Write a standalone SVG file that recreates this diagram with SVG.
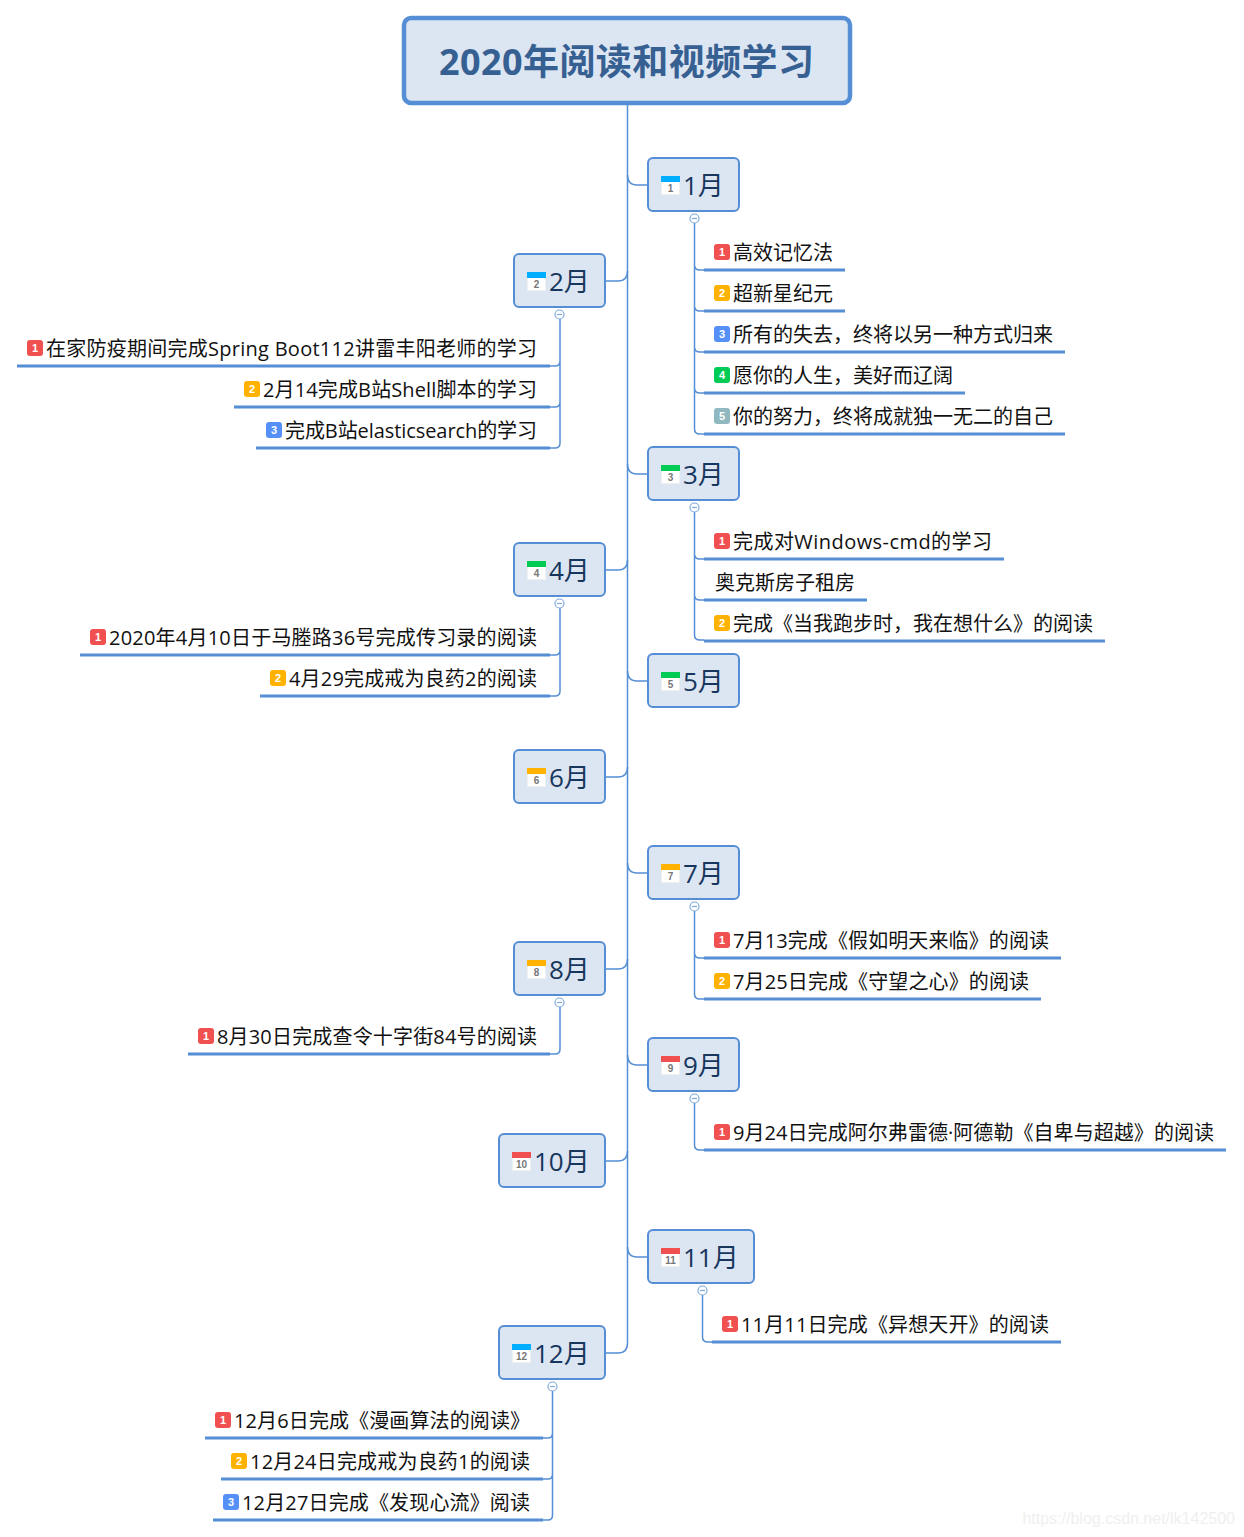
<svg xmlns="http://www.w3.org/2000/svg" xmlns:xlink="http://www.w3.org/1999/xlink" width="1244" height="1537" viewBox="0 0 1244 1537">
<style>
text{font-family:"Open Sans","Noto Sans CJK SC",sans-serif}
.root{fill:#dce6f2;stroke:#558ed5;stroke-width:4.5}
.rt{font-size:36px;font-weight:700;fill:#376092}
.topic{fill:#dce6f2;stroke:#558ed5;stroke-width:2}
.tt{font-size:26px;fill:#17365d}
.leaf{font-size:20px;fill:#111}
.ul{stroke:#558ed5;stroke-width:3;fill:none}
.con{stroke:#558ed5;stroke-width:1.5;fill:none}
.col{fill:#fff;stroke:#7fa9de;stroke-width:1.2}
.cm{stroke:#7fa9de;stroke-width:1.2}
.pn{font-size:11px;font-weight:700;fill:#fff;text-anchor:middle;font-family:"Liberation Sans",sans-serif}
.cn{font-size:10px;font-weight:700;fill:#777;text-anchor:middle;font-family:"Liberation Sans",sans-serif}
.p1{fill:#f05050}.p2{fill:#ffb300}.p3{fill:#5590f8}.p4{fill:#00cc55}.p5{fill:#8fb8c0}
.wm{font-size:16px;fill:#efefef;text-anchor:end;font-family:"Liberation Sans",sans-serif}
</style>
<defs>
<rect id="pr" width="16" height="16" rx="3"/>
<g id="cal"><rect x="0" y="0" width="19" height="19" fill="#f0f0f0"/><rect x="1" y="6" width="17" height="12" fill="#fff"/></g>
<g id="col"><circle r="4.5" class="col"/><line x1="-2.5" x2="2.5" class="cm"/></g>
</defs>
<g id="connectors">
<path class="con" d="M627.5 104V1343"/>
<path class="con" d="M627.5 175Q627.5 185 637 185H648"/>
<path class="con" d="M605 281H618Q627.5 281 627.5 271"/>
<path class="con" d="M627.5 464Q627.5 474 637 474H648"/>
<path class="con" d="M605 570H618Q627.5 570 627.5 560"/>
<path class="con" d="M627.5 671Q627.5 681 637 681H648"/>
<path class="con" d="M605 777H618Q627.5 777 627.5 767"/>
<path class="con" d="M627.5 863Q627.5 873 637 873H648"/>
<path class="con" d="M605 969H618Q627.5 969 627.5 959"/>
<path class="con" d="M627.5 1055Q627.5 1065 637 1065H648"/>
<path class="con" d="M605 1161H618Q627.5 1161 627.5 1151"/>
<path class="con" d="M627.5 1247Q627.5 1257 637 1257H648"/>
<path class="con" d="M605 1353H618Q627.5 1353 627.5 1343"/>
<path class="con" d="M694.5 223V429Q694.5 434 700 434H704M694.5 265Q694.5 270 700 270H704M694.5 306Q694.5 311 700 311H704M694.5 347Q694.5 352 700 352H704M694.5 388Q694.5 393 700 393H704"/>
<path class="con" d="M560 319V443Q560 448 555 448H550M560 361Q560 366 555 366H550M560 402Q560 407 555 407H550"/>
<path class="con" d="M694.5 512V635Q694.5 640 700 640H704M694.5 554Q694.5 559 700 559H704M694.5 595Q694.5 600 700 600H704"/>
<path class="con" d="M560 608V691Q560 696 555 696H550M560 650Q560 655 555 655H550"/>
<path class="con" d="M694.5 911V994Q694.5 999 700 999H704M694.5 953Q694.5 958 700 958H704"/>
<path class="con" d="M560 1007V1049Q560 1054 555 1054H550"/>
<path class="con" d="M694.5 1103V1145Q694.5 1150 700 1150H704"/>
<path class="con" d="M702.5 1295V1337Q702.5 1342 708 1342H712"/>
<path class="con" d="M552.5 1391V1515Q552.5 1520 548 1520H543M552.5 1433Q552.5 1438 548 1438H543M552.5 1474Q552.5 1479 548 1479H543"/>
</g>
<g id="root"><rect class="root" x="404" y="18" width="446" height="85" rx="7"/><text class="rt" x="439" y="75" textLength="375" lengthAdjust="spacing">2020年阅读和视频学习</text></g>

<g id="m1"><rect class="topic" x="648" y="158" width="91" height="53" rx="5"/><use xlink:href="#cal" href="#cal" x="661" y="176"/><rect x="661" y="176" width="19" height="6" fill="#00aeff"/><text class="cn" x="670.5" y="192">1</text><text class="tt" x="683" y="195">1月</text><use xlink:href="#col" href="#col" x="694.5" y="218.5"/></g>
<g id="m2"><rect class="topic" x="514" y="254" width="91" height="53" rx="5"/><use xlink:href="#cal" href="#cal" x="527" y="272"/><rect x="527" y="272" width="19" height="6" fill="#00aeff"/><text class="cn" x="536.5" y="288">2</text><text class="tt" x="549" y="291">2月</text><use xlink:href="#col" href="#col" x="559.5" y="314.5"/></g>
<g id="m3"><rect class="topic" x="648" y="447" width="91" height="53" rx="5"/><use xlink:href="#cal" href="#cal" x="661" y="465"/><rect x="661" y="465" width="19" height="6" fill="#00cc55"/><text class="cn" x="670.5" y="481">3</text><text class="tt" x="683" y="484">3月</text><use xlink:href="#col" href="#col" x="694.5" y="507.5"/></g>
<g id="m4"><rect class="topic" x="514" y="543" width="91" height="53" rx="5"/><use xlink:href="#cal" href="#cal" x="527" y="561"/><rect x="527" y="561" width="19" height="6" fill="#00cc55"/><text class="cn" x="536.5" y="577">4</text><text class="tt" x="549" y="580">4月</text><use xlink:href="#col" href="#col" x="559.5" y="603.5"/></g>
<g id="m5"><rect class="topic" x="648" y="654" width="91" height="53" rx="5"/><use xlink:href="#cal" href="#cal" x="661" y="672"/><rect x="661" y="672" width="19" height="6" fill="#00cc55"/><text class="cn" x="670.5" y="688">5</text><text class="tt" x="683" y="691">5月</text></g>
<g id="m6"><rect class="topic" x="514" y="750" width="91" height="53" rx="5"/><use xlink:href="#cal" href="#cal" x="527" y="768"/><rect x="527" y="768" width="19" height="6" fill="#ffb300"/><text class="cn" x="536.5" y="784">6</text><text class="tt" x="549" y="787">6月</text></g>
<g id="m7"><rect class="topic" x="648" y="846" width="91" height="53" rx="5"/><use xlink:href="#cal" href="#cal" x="661" y="864"/><rect x="661" y="864" width="19" height="6" fill="#ffb300"/><text class="cn" x="670.5" y="880">7</text><text class="tt" x="683" y="883">7月</text><use xlink:href="#col" href="#col" x="694.5" y="906.5"/></g>
<g id="m8"><rect class="topic" x="514" y="942" width="91" height="53" rx="5"/><use xlink:href="#cal" href="#cal" x="527" y="960"/><rect x="527" y="960" width="19" height="6" fill="#ffb300"/><text class="cn" x="536.5" y="976">8</text><text class="tt" x="549" y="979">8月</text><use xlink:href="#col" href="#col" x="559.5" y="1002.5"/></g>
<g id="m9"><rect class="topic" x="648" y="1038" width="91" height="53" rx="5"/><use xlink:href="#cal" href="#cal" x="661" y="1056"/><rect x="661" y="1056" width="19" height="6" fill="#f05050"/><text class="cn" x="670.5" y="1072">9</text><text class="tt" x="683" y="1075">9月</text><use xlink:href="#col" href="#col" x="694.5" y="1098.5"/></g>
<g id="m10"><rect class="topic" x="499" y="1134" width="106" height="53" rx="5"/><use xlink:href="#cal" href="#cal" x="512" y="1152"/><rect x="512" y="1152" width="19" height="6" fill="#f05050"/><text class="cn" x="521.5" y="1168">10</text><text class="tt" x="534" y="1171">10月</text></g>
<g id="m11"><rect class="topic" x="648" y="1230" width="106" height="53" rx="5"/><use xlink:href="#cal" href="#cal" x="661" y="1248"/><rect x="661" y="1248" width="19" height="6" fill="#f05050"/><text class="cn" x="670.5" y="1264">11</text><text class="tt" x="683" y="1267">11月</text><use xlink:href="#col" href="#col" x="702.5" y="1290.5"/></g>
<g id="m12"><rect class="topic" x="499" y="1326" width="106" height="53" rx="5"/><use xlink:href="#cal" href="#cal" x="512" y="1344"/><rect x="512" y="1344" width="19" height="6" fill="#00aeff"/><text class="cn" x="521.5" y="1360">12</text><text class="tt" x="534" y="1363">12月</text><use xlink:href="#col" href="#col" x="552.5" y="1386.5"/></g>

<g id="l1-1"><use xlink:href="#pr" href="#pr" class="p1" x="714" y="244"/><text class="pn" x="722" y="256">1</text><text class="leaf" x="733" y="260">高效记忆法</text><path class="ul" d="M704 270H845"/></g>
<g id="l1-2"><use xlink:href="#pr" href="#pr" class="p2" x="714" y="285"/><text class="pn" x="722" y="297">2</text><text class="leaf" x="733" y="301">超新星纪元</text><path class="ul" d="M704 311H845"/></g>
<g id="l1-3"><use xlink:href="#pr" href="#pr" class="p3" x="714" y="326"/><text class="pn" x="722" y="338">3</text><text class="leaf" x="733" y="342">所有的失去，终将以另一种方式归来</text><path class="ul" d="M704 352H1065"/></g>
<g id="l1-4"><use xlink:href="#pr" href="#pr" class="p4" x="714" y="367"/><text class="pn" x="722" y="379">4</text><text class="leaf" x="733" y="383">愿你的人生，美好而辽阔</text><path class="ul" d="M704 393H965"/></g>
<g id="l1-5"><use xlink:href="#pr" href="#pr" class="p5" x="714" y="408"/><text class="pn" x="722" y="420">5</text><text class="leaf" x="733" y="424">你的努力，终将成就独一无二的自己</text><path class="ul" d="M704 434H1065"/></g>

<g id="l2-1"><use xlink:href="#pr" href="#pr" class="p1" x="27" y="340"/><text class="pn" x="35" y="352">1</text><text class="leaf" x="46" y="356" textLength="491" lengthAdjust="spacing">在家防疫期间完成Spring Boot112讲雷丰阳老师的学习</text><path class="ul" d="M17 366H550"/></g>
<g id="l2-2"><use xlink:href="#pr" href="#pr" class="p2" x="244" y="381"/><text class="pn" x="252" y="393">2</text><text class="leaf" x="263" y="397" textLength="274" lengthAdjust="spacing">2月14完成B站Shell脚本的学习</text><path class="ul" d="M234 407H550"/></g>
<g id="l2-3"><use xlink:href="#pr" href="#pr" class="p3" x="266" y="422"/><text class="pn" x="274" y="434">3</text><text class="leaf" x="285" y="438" textLength="252" lengthAdjust="spacing">完成B站elasticsearch的学习</text><path class="ul" d="M256 448H550"/></g>

<g id="l3-1"><use xlink:href="#pr" href="#pr" class="p1" x="714" y="533"/><text class="pn" x="722" y="545">1</text><text class="leaf" x="733" y="549" textLength="259" lengthAdjust="spacing">完成对Windows-cmd的学习</text><path class="ul" d="M704 559H1004"/></g>
<g id="l3-2"><text class="leaf" x="715" y="590">奥克斯房子租房</text><path class="ul" d="M704 600H867"/></g>
<g id="l3-3"><use xlink:href="#pr" href="#pr" class="p2" x="714" y="615"/><text class="pn" x="722" y="627">2</text><text class="leaf" x="733" y="631">完成《当我跑步时，我在想什么》的阅读</text><path class="ul" d="M704 641H1105"/></g>

<g id="l4-1"><use xlink:href="#pr" href="#pr" class="p1" x="90" y="629"/><text class="pn" x="98" y="641">1</text><text class="leaf" x="109" y="645" textLength="428" lengthAdjust="spacing">2020年4月10日于马塍路36号完成传习录的阅读</text><path class="ul" d="M80 655H550"/></g>
<g id="l4-2"><use xlink:href="#pr" href="#pr" class="p2" x="270" y="670"/><text class="pn" x="278" y="682">2</text><text class="leaf" x="289" y="686" textLength="248" lengthAdjust="spacing">4月29完成戒为良药2的阅读</text><path class="ul" d="M260 696H550"/></g>

<g id="l7-1"><use xlink:href="#pr" href="#pr" class="p1" x="714" y="932"/><text class="pn" x="722" y="944">1</text><text class="leaf" x="733" y="948" textLength="316" lengthAdjust="spacing">7月13完成《假如明天来临》的阅读</text><path class="ul" d="M704 958H1061"/></g>
<g id="l7-2"><use xlink:href="#pr" href="#pr" class="p2" x="714" y="973"/><text class="pn" x="722" y="985">2</text><text class="leaf" x="733" y="989" textLength="296" lengthAdjust="spacing">7月25日完成《守望之心》的阅读</text><path class="ul" d="M704 999H1041"/></g>

<g id="l8-1"><use xlink:href="#pr" href="#pr" class="p1" x="198" y="1028"/><text class="pn" x="206" y="1040">1</text><text class="leaf" x="217" y="1044" textLength="320" lengthAdjust="spacing">8月30日完成查令十字街84号的阅读</text><path class="ul" d="M188 1054H550"/></g>

<g id="l9-1"><use xlink:href="#pr" href="#pr" class="p1" x="714" y="1124"/><text class="pn" x="722" y="1136">1</text><text class="leaf" x="733" y="1140" textLength="481" lengthAdjust="spacing">9月24日完成阿尔弗雷德·阿德勒《自卑与超越》的阅读</text><path class="ul" d="M704 1150H1226"/></g>

<g id="l11-1"><use xlink:href="#pr" href="#pr" class="p1" x="722" y="1316"/><text class="pn" x="730" y="1328">1</text><text class="leaf" x="741" y="1332" textLength="308" lengthAdjust="spacing">11月11日完成《异想天开》的阅读</text><path class="ul" d="M712 1342H1061"/></g>

<g id="l12-1"><use xlink:href="#pr" href="#pr" class="p1" x="215" y="1412"/><text class="pn" x="223" y="1424">1</text><text class="leaf" x="234" y="1428" textLength="296" lengthAdjust="spacing">12月6日完成《漫画算法的阅读》</text><path class="ul" d="M205 1438H543"/></g>
<g id="l12-2"><use xlink:href="#pr" href="#pr" class="p2" x="231" y="1453"/><text class="pn" x="239" y="1465">2</text><text class="leaf" x="250" y="1469" textLength="280" lengthAdjust="spacing">12月24日完成戒为良药1的阅读</text><path class="ul" d="M221 1479H543"/></g>
<g id="l12-3"><use xlink:href="#pr" href="#pr" class="p3" x="223" y="1494"/><text class="pn" x="231" y="1506">3</text><text class="leaf" x="242" y="1510" textLength="288" lengthAdjust="spacing">12月27日完成《发现心流》阅读</text><path class="ul" d="M213 1520H543"/></g>

<text class="wm" x="1235" y="1524">https://blog.csdn.net/lk142500</text>
</svg>
